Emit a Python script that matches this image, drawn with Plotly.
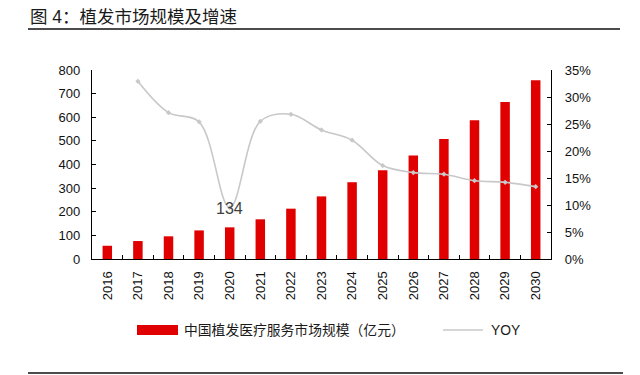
import plotly.graph_objects as go

years = ["2016", "2017", "2018", "2019", "2020", "2021", "2022", "2023",
         "2024", "2025", "2026", "2027", "2028", "2029", "2030"]
market_size = [56, 76, 96, 121, 134, 168, 213, 265, 325, 376, 438, 508, 587, 665, 757]
yoy_years = years[1:]
yoy = [0.329, 0.271, 0.254, 0.095, 0.255, 0.268, 0.239, 0.220, 0.173, 0.160,
       0.157, 0.145, 0.142, 0.134]
bar_name = "中国植发医疗服务市场规模（亿元）"
line_name = "YOY"
title_text = "图 4：植发市场规模及增速"
label_index = 4  # 2020 bar carries a value label

FONT = "Liberation Sans, Arial, Noto Sans CJK SC, sans-serif"
W, H = 640, 375
L, R, T, B = 92, 89, 70, 116
PW, PH = W - L - R, H - T - B


def px(x):
    return (x - L) / PW


def py(y):
    return (H - B - y) / PH


fig = go.Figure()
fig.add_trace(go.Bar(x=years, y=market_size, name=bar_name,
                     marker=dict(color="#E00000", line=dict(width=0)),
                     width=0.31, showlegend=False))
fig.add_trace(go.Scatter(x=yoy_years, y=yoy, name=line_name, yaxis="y2",
                         mode="lines+markers",
                         line=dict(color="#C8C8C8", width=1.6, shape="spline", smoothing=1.0),
                         marker=dict(color="#C8C8C8", size=4, symbol="diamond"),
                         showlegend=False))

# data label for 2020 (white background hides the line behind it, as in the reference)
fig.add_annotation(x=label_index, y=215, xref="x", yref="y",
                   text=str(market_size[label_index]),
                   showarrow=False, bgcolor="rgba(255,255,255,0)",
                   font=dict(size=16, color="#404040", family=FONT))

axis_common = dict(showline=True, linecolor="#000000", linewidth=1.3,
                   ticks="inside", ticklen=4, tickcolor="#000000", tickwidth=1.2,
                   showgrid=False, zeroline=False,
                   tickfont=dict(size=13, color="#111111", family=FONT))

fig.update_layout(
    width=W, height=H,
    margin=dict(l=L, r=R, t=T, b=B, autoexpand=False),
    paper_bgcolor="white", plot_bgcolor="white",
    xaxis=dict(**axis_common, type="category", tickangle=-90, tickson="boundaries",
               ticklabelstandoff=6, range=[-0.5, len(years) - 0.5]),
    yaxis=dict(**axis_common, range=[0, 800], dtick=100, ticklabelstandoff=8),
    yaxis2=dict(**axis_common, range=[0, 0.35], dtick=0.05, tickformat=".0%",
                overlaying="y", side="right", ticklabelstandoff=10),
    showlegend=False,
)

# title
fig.add_annotation(x=px(28), y=py(17), xref="paper", yref="paper", xanchor="left",
                   yanchor="middle", text=title_text, showarrow=False,
                   font=dict(size=17.5, color="#1a1a1a", family=FONT))
# rules
fig.add_shape(type="line", xref="paper", yref="paper", x0=px(28), x1=px(620),
              y0=py(29), y1=py(29), line=dict(color="#111111", width=1.6))
fig.add_shape(type="line", xref="paper", yref="paper", x0=px(28), x1=px(623),
              y0=py(373), y1=py(373), line=dict(color="#111111", width=1.6))

# manual legend
fig.add_shape(type="rect", xref="paper", yref="paper", x0=px(137), x1=px(178),
              y0=py(335), y1=py(325), fillcolor="#E00000", line=dict(width=0))
fig.add_annotation(x=px(182), y=py(330), xref="paper", yref="paper", xanchor="left",
                   yanchor="middle", text=bar_name, showarrow=False,
                   font=dict(size=13.8, color="#1a1a1a", family=FONT))
fig.add_shape(type="line", xref="paper", yref="paper", x0=px(443), x1=px(483),
              y0=py(330), y1=py(330), line=dict(color="#C8C8C8", width=1.6))
fig.add_annotation(x=px(489), y=py(330), xref="paper", yref="paper", xanchor="left",
                   yanchor="middle", text=line_name, showarrow=False,
                   font=dict(size=13.8, color="#1a1a1a", family=FONT))

fig.write_html("out.html", config={"displayModeBar": False},
               post_script="document.body.style.margin='0';document.body.style.overflow='hidden';")
